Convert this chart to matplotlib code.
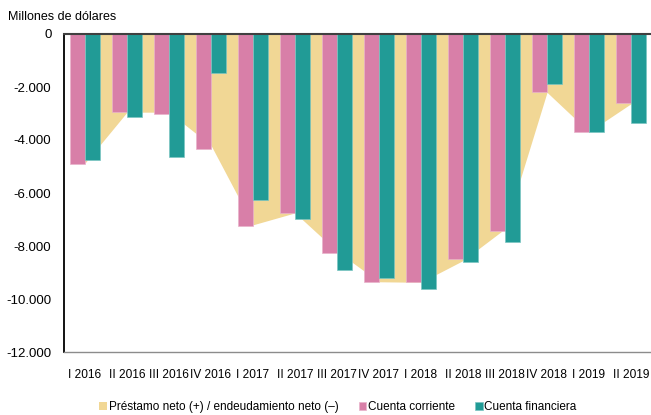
import numpy as np
import matplotlib
matplotlib.use("Agg")
from matplotlib import pyplot as plt

# data (millions of dollars)
quarters = ["I 2016", "II 2016", "III 2016", "IV 2016",
            "I 2017", "II 2017", "III 2017", "IV 2017",
            "I 2018", "II 2018", "III 2018", "IV 2018",
            "I 2019", "II 2019"]
prestamo_neto = [-4870, -2950, -2950, -4200, -7200, -6750, -8200,
                 -9350, -9370, -8550, -7350, -2200, -3690, -2630]
cuenta_corriente = [-4920, -2960, -3010, -4330, -7230, -6760, -8260,
                    -9350, -9370, -8500, -7450, -2190, -3700, -2600]
cuenta_financiera = [-4740, -3140, -4650, -1480, -6250, -7000, -8900,
                     -9210, -9630, -8620, -7860, -1880, -3700, -3370]

yellow = "#F1D795"
pink = "#D87FA8"
teal = "#219B96"

# no narrow font available, so a smaller Liberation Sans keeps the widths close
plt.rcParams["font.family"] = ["Liberation Sans", "DejaVu Sans"]
plt.rcParams["font.size"] = 9

fig = plt.figure(figsize=(6.51, 4.15), dpi=100)
ax = fig.add_axes([64 / 651, 63 / 415, 588 / 651, 318 / 415])

x = np.arange(len(quarters))
w = 0.36

ax.fill_between(x, 0, prestamo_neto, color=yellow, lw=0, zorder=1,
                label="Préstamo neto (+) / endeudamiento neto (–)")
ax.bar(x - w / 2, cuenta_corriente, w, color=pink, edgecolor="#E9B3CB",
       lw=0.5, zorder=2, label="Cuenta corriente")
ax.bar(x + w / 2, cuenta_financiera, w, color=teal, edgecolor="#7CC6C2",
       lw=0.5, zorder=2, label="Cuenta financiera")

ax.set_xlim(-0.5, len(quarters) - 0.5)
ax.set_ylim(-12000, 0)
ax.set_yticks(range(-12000, 1, 2000))
ax.set_yticklabels([f"{v:,}".replace(",", ".") for v in range(-12000, 1, 2000)])
ax.set_xticks(x)
ax.set_xticklabels(quarters)
ax.tick_params(axis="both", length=0)
ax.tick_params(axis="y", labelsize=9.5, pad=9)
ax.tick_params(axis="x", labelsize=8.6, pad=12)

for s in ["top", "left", "bottom", "right"]:
    ax.spines[s].set_zorder(5)
ax.spines["right"].set_visible(False)
ax.spines["top"].set_color("#404040")
ax.spines["top"].set_linewidth(1.5)
ax.spines["left"].set_color("black")
ax.spines["left"].set_linewidth(1.3)
ax.spines["bottom"].set_color("#8C8C8C")
ax.spines["bottom"].set_linewidth(1.0)

fig.text(8 / 651, 1 - 17 / 415, "Millones de dólares", fontsize=9,
         ha="left", va="center")

ax.legend(loc="center", bbox_to_anchor=(338 / 651, 8 / 415),
          bbox_transform=fig.transFigure, ncol=3, frameon=False,
          fontsize=8.5, handlelength=0.65, handleheight=0.65,
          handletextpad=0.15, columnspacing=1.7, borderpad=0)

fig.savefig("out.png", dpi=100)
